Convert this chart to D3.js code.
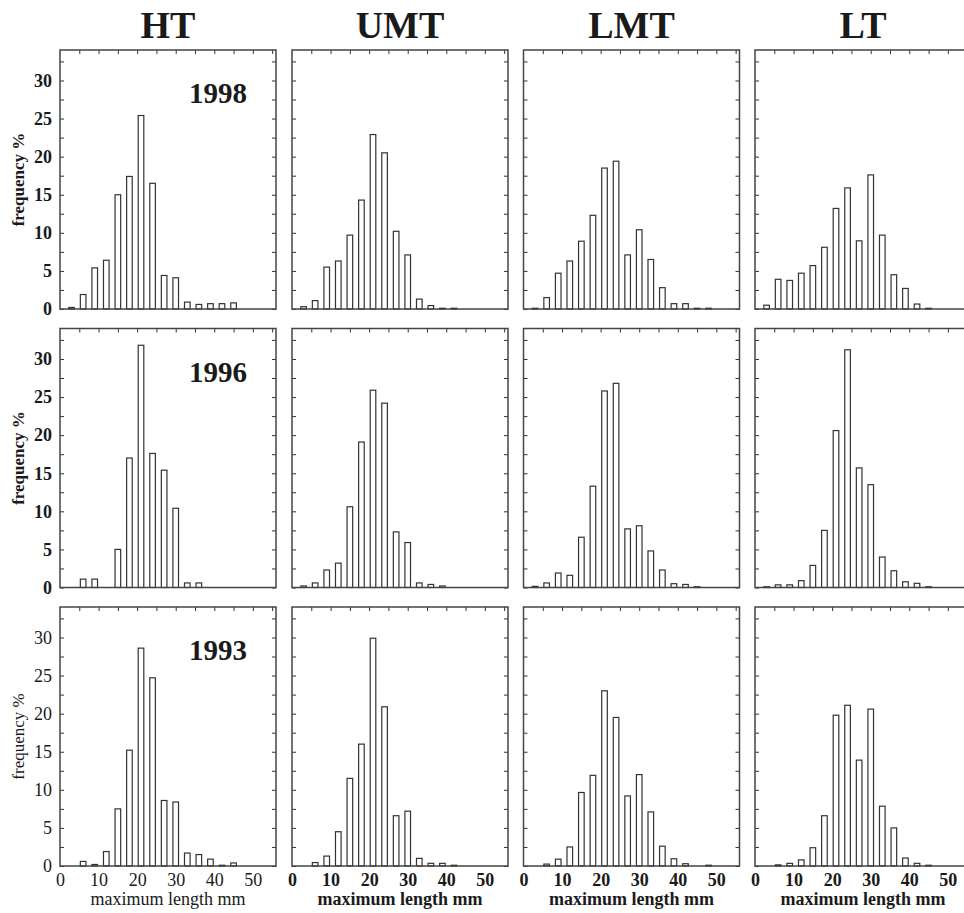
<!DOCTYPE html>
<html>
<head>
<meta charset="utf-8">
<script src="https://cdn.jsdelivr.net/npm/d3@7"></script>
<style>
	body { margin: 0; background: #fff; }
	svg { display: block; }
	text { font-family: "Liberation Serif", "Times New Roman", serif; fill: #1a1a1a; }
</style>
</head>
<body>
<svg id="chart" width="964" height="913"></svg>
<script>
var sites = ["HT", "UMT", "LMT", "LT"];
var years = ["1998", "1996", "1993"];

// length classes (mm), class centres
var bins = [3, 6, 9, 12, 15, 18, 21, 24, 27, 30, 33, 36, 39, 42, 45, 48, 51];
var xTicks = [0, 10, 20, 30, 40, 50];
var yTicks = [0, 5, 10, 15, 20, 25, 30];

// frequency % per class, one array per panel
var ht1998  = [0.2, 1.9, 5.4, 6.4, 15.0, 17.4, 25.4, 16.5, 4.4, 4.1, 0.9, 0.6, 0.7, 0.7, 0.8, 0, 0];
var umt1998 = [0.3, 1.1, 5.5, 6.3, 9.7, 14.3, 22.9, 20.5, 10.2, 7.1, 1.3, 0.45, 0.1, 0.1, 0, 0, 0];
var lmt1998 = [0.1, 1.5, 4.7, 6.3, 8.9, 12.3, 18.5, 19.4, 7.1, 10.4, 6.5, 2.8, 0.7, 0.7, 0.1, 0.1, 0];
var lt1998  = [0.5, 3.9, 3.75, 4.7, 5.7, 8.1, 13.2, 15.9, 8.95, 17.6, 9.7, 4.5, 2.7, 0.65, 0.1, 0, 0];

var ht1996  = [0, 1.1, 1.1, 0, 5.0, 17.0, 31.8, 17.6, 15.4, 10.4, 0.6, 0.6, 0, 0, 0, 0, 0];
var umt1996 = [0.2, 0.6, 2.3, 3.2, 10.6, 19.1, 25.9, 24.2, 7.3, 5.9, 0.6, 0.4, 0.2, 0, 0, 0, 0];
var lmt1996 = [0.15, 0.6, 1.9, 1.6, 6.6, 13.3, 25.8, 26.8, 7.7, 8.1, 4.8, 2.3, 0.5, 0.4, 0.1, 0, 0];
var lt1996  = [0.1, 0.35, 0.35, 0.9, 2.9, 7.5, 20.6, 31.2, 15.7, 13.5, 4.0, 2.2, 0.75, 0.55, 0.1, 0, 0];

var ht1993  = [0, 0.6, 0.2, 1.9, 7.5, 15.2, 28.6, 24.7, 8.6, 8.4, 1.7, 1.5, 0.9, 0.1, 0.4, 0, 0];
var umt1993 = [0, 0.45, 1.3, 4.5, 11.5, 16.0, 29.9, 20.9, 6.6, 7.2, 1.0, 0.35, 0.35, 0.1, 0, 0, 0];
var lmt1993 = [0, 0.25, 0.9, 2.5, 9.65, 11.9, 23.0, 19.5, 9.2, 12.0, 7.1, 2.6, 0.95, 0.3, 0, 0.1, 0];
var lt1993  = [0, 0.15, 0.35, 0.8, 2.4, 6.6, 19.8, 21.1, 13.9, 20.6, 7.85, 5.0, 1.05, 0.35, 0.1, 0, 0];

// rows = years, columns = sites
var panels = [
	[ht1998, umt1998, lmt1998, lt1998],
	[ht1996, umt1996, lmt1996, lt1996],
	[ht1993, umt1993, lmt1993, lt1993]
];

var colLeft = [60, 292, 523.5, 755],
	rowTop = [50, 328.5, 607],
	panelW = 216,
	panelH = 259,
	barW = 5.6,
	ink = "#333",
	serif = '"Liberation Serif", "Times New Roman", serif';

var svg = d3.select("#chart");

var x = d3.scaleLinear().domain([0, 56]).range([0, panelW]);
var y = d3.scaleLinear().domain([0, 34]).range([panelH, 0]);

//Column titles
svg.selectAll("text.site")
	.data(sites)
	.enter().append("text")
	.attr("class", "site")
	.attr("x", function(d, i) { return colLeft[i] + panelW / 2; })
	.attr("y", 38)
	.attr("text-anchor", "middle")
	.style("font-size", "38px")
	.style("font-weight", "bold")
	.text(function(d) { return d; });

function styleLabels(axis, bold) {
	axis.attr("font-family", serif).attr("font-size", null);
	axis.select(".domain").remove();
	axis.selectAll("line").attr("stroke", ink);
	axis.selectAll("text")
		.style("font-family", serif)
		.style("font-size", "18px")
		.style("font-weight", bold ? "bold" : "normal")
		.attr("fill", "#1a1a1a");
}

for (var r = 0; r < years.length; r++) {
	// the bottom row of the source uses plain type on the first column
	var bold = r < 2;

	for (var c = 0; c < sites.length; c++) {
		var g = svg.append("g")
			.attr("transform", "translate(" + colLeft[c] + "," + rowTop[r] + ")");

		// inward ticks on top, left and right
		g.append("g")
			.call(d3.axisTop(x).tickValues(d3.range(5, 56, 5)).tickSize(-4).tickFormat(""))
			.call(styleLabels, bold);

		g.append("g")
			.call(d3.axisLeft(y).tickValues(d3.range(0, 34, 2.5)).tickSize(-4).tickPadding(8)
				.tickFormat(function(d) { return (c === 0 && yTicks.indexOf(d) >= 0) ? d : ""; }))
			.call(styleLabels, bold);

		g.append("g")
			.attr("transform", "translate(" + panelW + ",0)")
			.call(d3.axisRight(y).tickValues(d3.range(0, 34, 2.5)).tickSize(-4).tickFormat(""))
			.call(styleLabels, bold);

		// bars
		var values = panels[r][c];
		g.selectAll("rect.bar")
			.data(bins.map(function(b, i) { return {bin: b, value: values[i]}; })
				.filter(function(d) { return d.value > 0; }))
			.enter().append("rect")
			.attr("class", "bar")
			.attr("x", function(d) { return x(d.bin) - barW / 2; })
			.attr("y", function(d) { return y(d.value); })
			.attr("width", barW)
			.attr("height", function(d) { return y(0) - y(d.value); })
			.attr("fill", "#fff")
			.attr("stroke", ink)
			.attr("stroke-width", 1.2);

		// frame
		g.append("rect")
			.attr("width", panelW)
			.attr("height", panelH)
			.attr("fill", "none")
			.attr("stroke", "#444")
			.attr("stroke-width", 1.5);

		if (c === 0) {
			g.append("text")
				.attr("x", panelW - 29)
				.attr("y", 53)
				.attr("text-anchor", "end")
				.style("font-size", "29px")
				.style("font-weight", "bold")
				.text(years[r]);

			g.append("text")
				.attr("transform", "translate(" + (-36) + "," + (panelH / 2) + ") rotate(-90)")
				.attr("text-anchor", "middle")
				.style("font-size", "17px")
				.style("font-weight", bold ? "bold" : "normal")
				.text("frequency %");
		}

		if (r === years.length - 1) {
			var bottomBold = c > 0;
			g.append("g")
				.attr("transform", "translate(0," + panelH + ")")
				.call(d3.axisBottom(x).tickValues(xTicks).tickSize(0).tickPadding(7))
				.call(styleLabels, bottomBold);

			g.append("text")
				.attr("x", panelW / 2)
				.attr("y", panelH + 39)
				.attr("text-anchor", "middle")
				.style("font-size", "18px")
				.style("font-weight", bottomBold ? "bold" : "normal")
				.text("maximum length mm");
		}
	}
}
</script>
</body>
</html>
